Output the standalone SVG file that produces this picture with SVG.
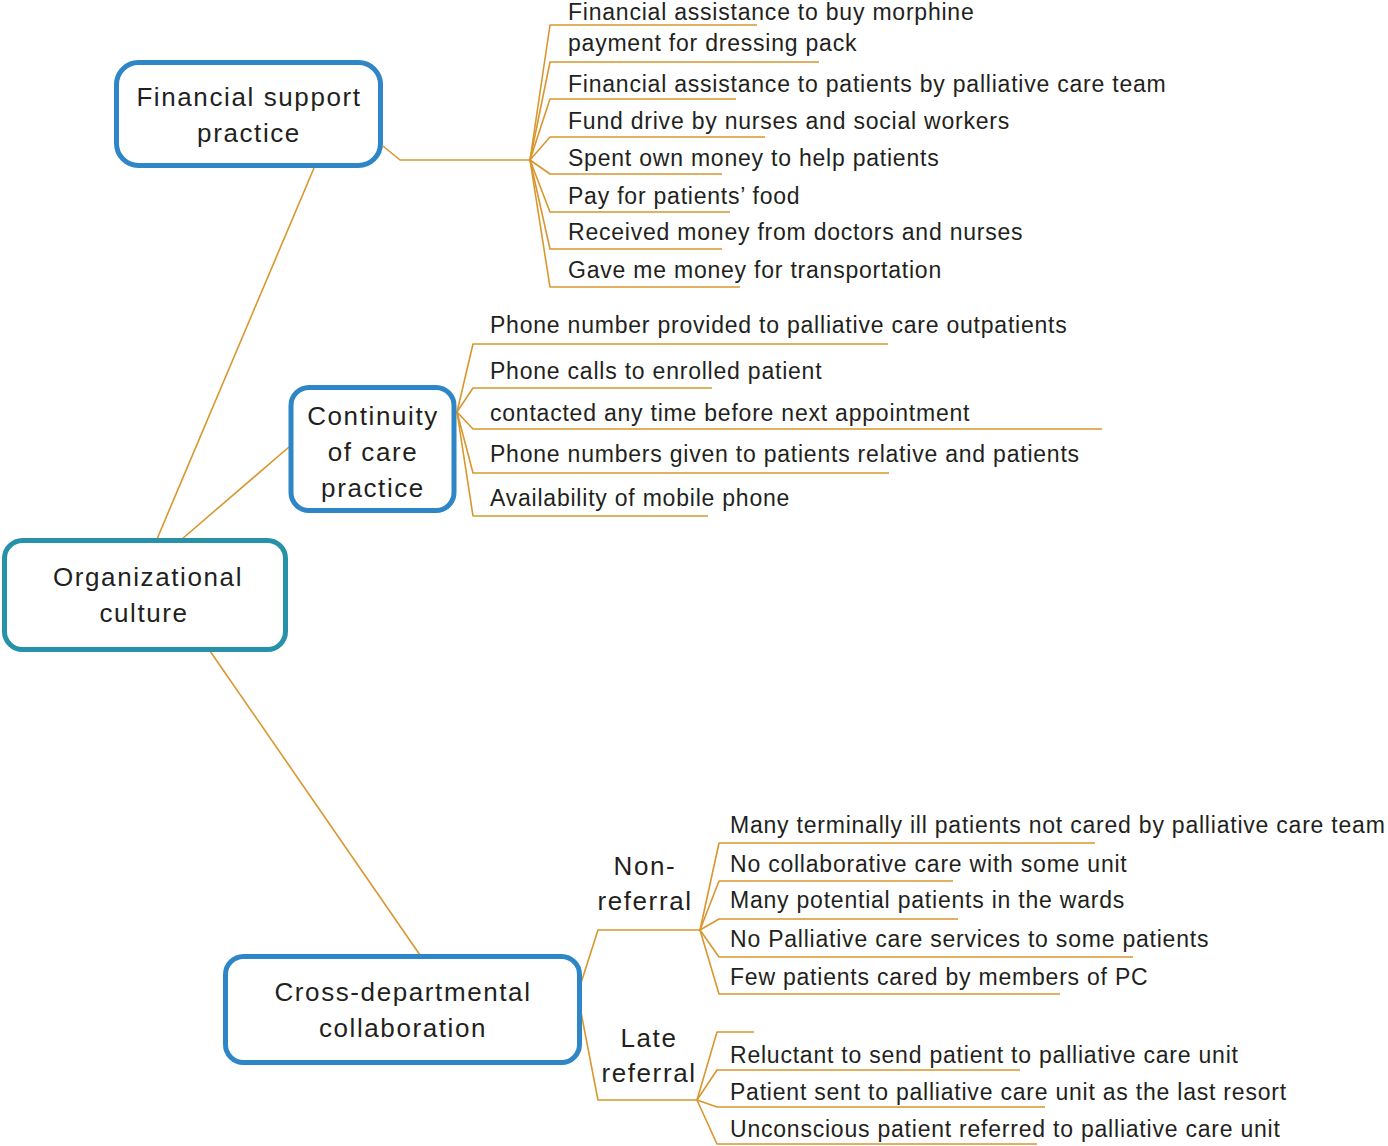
<svg xmlns="http://www.w3.org/2000/svg" width="1388" height="1146" viewBox="0 0 1388 1146">
<style>
.box{fill:#fff;stroke:#2E86C6;stroke-width:5}
.root{fill:#fff;stroke:#2691A8;stroke-width:5}
.big{font-family:"Liberation Sans",Arial,sans-serif;font-size:26px;letter-spacing:1.6px;fill:#231f20;text-anchor:middle}
.leaf{font-family:"Liberation Sans",Arial,sans-serif;font-size:23px;letter-spacing:0.78px;fill:#231f20}
.con{fill:none;stroke:#D9962E;stroke-width:1.6;stroke-linejoin:round}
</style>
<rect width="1388" height="1146" fill="#fff"/>
<g id="connectors">
<path class="con" d="M157,539 L314,168"/>
<path class="con" d="M182,539 L289,447"/>
<path class="con" d="M210,651 L420,955"/>
<path class="con" d="M383,146 L400,160 H530"/>
<path class="con" d="M530,160 L550,25 H757"/>
<path class="con" d="M530,160 L550,62 H819"/>
<path class="con" d="M530,160 L550,99 H736"/>
<path class="con" d="M530,160 L550,137 H765"/>
<path class="con" d="M530,160 L550,174 H722"/>
<path class="con" d="M530,160 L550,212 H730"/>
<path class="con" d="M530,160 L550,249 H722"/>
<path class="con" d="M530,160 L550,287 H740"/>
<path class="con" d="M457,412 L473,344 H888"/>
<path class="con" d="M457,412 L473,388 H712"/>
<path class="con" d="M457,412 L473,429 H1102"/>
<path class="con" d="M457,412 L473,473 H889"/>
<path class="con" d="M457,412 L473,516 H708"/>
<path class="con" d="M581,983 L598,930 H700"/>
<path class="con" d="M700,930 L719,843 H1095"/>
<path class="con" d="M700,930 L719,881 H953"/>
<path class="con" d="M700,930 L719,919 H958"/>
<path class="con" d="M700,930 L719,957 H1133"/>
<path class="con" d="M700,930 L719,994 H1060"/>
<path class="con" d="M580,1007 L598,1100 H697"/>
<path class="con" d="M697,1100 L717,1032 H754"/>
<path class="con" d="M697,1100 L717,1070 H1020"/>
<path class="con" d="M697,1100 L717,1107 H1045"/>
<path class="con" d="M697,1100 L717,1144 H1037"/>
</g>
<g id="organizational-culture">
<rect class="root" x="4.5" y="540.5" width="281" height="109" rx="18"/>
<text class="big" x="148" y="586">Organizational</text>
<text class="big" x="144" y="622">culture</text>
</g>
<g id="financial-support">
<rect class="box" x="116.5" y="62.5" width="264" height="103" rx="22"/>
<text class="big" x="249" y="106">Financial support</text>
<text class="big" x="249" y="142">practice</text>
</g>
<g id="continuity-of-care">
<rect class="box" x="291" y="387.5" width="163" height="123" rx="18"/>
<text class="big" x="373" y="425">Continuity</text>
<text class="big" x="373" y="461">of care</text>
<text class="big" x="373" y="497">practice</text>
</g>
<g id="cross-departmental">
<rect class="box" x="225.5" y="956.5" width="354" height="106" rx="18"/>
<text class="big" x="403" y="1001">Cross-departmental</text>
<text class="big" x="403" y="1037">collaboration</text>
</g>
<g id="non-referral">
<text class="big" x="645" y="875">Non-</text>
<text class="big" x="645" y="910">referral</text>
</g>
<g id="late-referral">
<text class="big" x="649" y="1047">Late</text>
<text class="big" x="649" y="1082">referral</text>
</g>
<g id="financial-leaves">
<text class="leaf" x="568" y="20">Financial assistance to buy morphine</text>
<text class="leaf" x="568" y="51">payment for dressing pack</text>
<text class="leaf" x="568" y="92">Financial assistance to patients by palliative care team</text>
<text class="leaf" x="568" y="129">Fund drive by nurses and social workers</text>
<text class="leaf" x="568" y="166">Spent own money to help patients</text>
<text class="leaf" x="568" y="204">Pay for patients’ food</text>
<text class="leaf" x="568" y="240">Received money from doctors and nurses</text>
<text class="leaf" x="568" y="278">Gave me money for transportation</text>
</g>
<g id="continuity-leaves">
<text class="leaf" x="490" y="333">Phone number provided to palliative care outpatients</text>
<text class="leaf" x="490" y="379">Phone calls to enrolled patient</text>
<text class="leaf" x="490" y="421">contacted any time before next appointment</text>
<text class="leaf" x="490" y="462">Phone numbers given to patients relative and patients</text>
<text class="leaf" x="490" y="506">Availability of mobile phone</text>
</g>
<g id="non-referral-leaves">
<text class="leaf" x="730" y="833">Many terminally ill patients not cared by palliative care team</text>
<text class="leaf" x="730" y="872">No collaborative care with some unit</text>
<text class="leaf" x="730" y="908">Many potential patients in the wards</text>
<text class="leaf" x="730" y="947">No Palliative care services to some patients</text>
<text class="leaf" x="730" y="985">Few patients cared by members of PC</text>
</g>
<g id="late-referral-leaves">
<text class="leaf" x="730" y="1063">Reluctant to send patient to palliative care unit</text>
<text class="leaf" x="730" y="1100">Patient sent to palliative care unit as the last resort</text>
<text class="leaf" x="730" y="1137">Unconscious patient referred to palliative care unit</text>
</g>
</svg>
